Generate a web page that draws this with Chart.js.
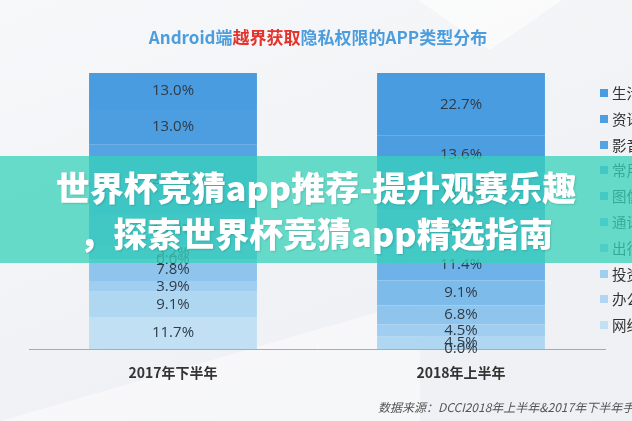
<!DOCTYPE html>
<html>
<head>
<meta charset="utf-8">
<script src="https://cdn.jsdelivr.net/npm/chart.js@4.4.1/dist/chart.umd.min.js"></script>
<style>
  html, body { margin: 0; padding: 0; }
  body { width: 632px; height: 421px; overflow: hidden; font-family: "Noto Sans CJK SC", "Noto Sans", sans-serif; }
  #wrap { position: relative; width: 632px; height: 421px; overflow: hidden;
    background: linear-gradient(160deg, #f7f8fa 0%, #f1f2f5 55%, #eef0f3 100%); }
  #shape1 { position: absolute; left: 360px; top: -40px; width: 0; height: 0;
    border-left: 130px solid transparent; border-right: 130px solid transparent;
    border-top: 90px solid rgba(255,255,255,0.55); }
  #shape2 { position: absolute; left: 0; top: 300px; width: 0; height: 0;
    border-right: 420px solid rgba(255,255,255,0.45); border-top: 121px solid transparent; }
  canvas { position: absolute; left: 0; top: 0; }
  #title { position: absolute; left: 0; top: 27px; width: 636px; text-align: center;
    font-size: 17px; font-weight: bold; line-height: 20px; color: #4b9ddd; white-space: nowrap; }
  #title span { color: #e5332c; }
  #legend { position: absolute; left: 600px; top: 0; }
  .item { position: absolute; left: 0; height: 16px; white-space: nowrap; font-size: 14.5px; line-height: 16px; color: #333; }
  .item i { position: absolute; left: 0; top: 4px; width: 8px; height: 8px; }
  .item b { position: absolute; left: 12px; top: 0; font-weight: normal; }
  #banner { position: absolute; left: 0; top: 156px; width: 632px; height: 107px;
    background: rgba(55, 209, 185, 0.75); color: #fff; text-align: center;
    font-size: 34px; font-weight: 900; line-height: 46px; box-sizing: border-box; padding-top: 8px;
    text-shadow: 1px 1px 2px rgba(0,0,0,0.15); white-space: nowrap; }
  #source { position: absolute; left: 378px; top: 399px; font-size: 12px; line-height: 16px;
    font-style: italic; color: #555; white-space: nowrap; }
</style>
</head>
<body>
<div id="wrap">
  <div id="shape1"></div>
  <div id="shape2"></div>
  <canvas id="appChart" width="632" height="421"></canvas>
  <div id="title">Android端<span>越界获取</span>隐私权限的APP类型分布</div>
  <div id="legend"></div>
  <div id="banner">世界杯竞猜app推荐-提升观赛乐趣<br>，探索世界杯竞猜app精选指南</div>
  <div id="source">数据来源：DCCI2018年上半年&amp;2017年下半年手机APP隐私权限报告</div>
</div>
<script>
// periods on the x axis
const periods = ['2017年下半年', '2018年上半年'];
// app types, top of the stack first (same order as the legend)
const appTypes = ['生活服务', '资讯阅读', '影音娱乐', '常用工具', '图像美化', '通讯社交', '出行导航', '投资理财', '办公商务', '网络购物'];
// share (%) per app type, same order as appTypes
const share2017 = [13.0, 13.0, 25.4, 10.9, 5.2, 0.0, 7.8, 3.9, 9.1, 11.7];
const share2018 = [22.7, 13.6, 13.6, 13.8, 11.4, 9.1, 6.8, 4.5, 4.5, 0.0];

const colors = ['#4a9ce0', '#4d9ee1', '#54a3e3', '#5faae5', '#6db2e8', '#7dbbea', '#8fc5ed', '#a0cef0', '#b0d7f2', '#c2e0f4'];

// legend (html, so it can run off the right edge like the original)
const legendBox = document.querySelector('#legend');
appTypes.forEach((name, i) => {
  const el = document.createElement('div');
  el.className = 'item';
  el.style.top = (85 + i * 25.8) + 'px';
  el.innerHTML = `<i style="background:${colors[i]}"></i><b>${name}</b>`;
  legendBox.appendChild(el);
});

// chart.js stacks the first dataset at the bottom, so reverse
const datasets = appTypes.map((name, i) => ({
  label: name,
  data: [share2017[i], share2018[i]],
  backgroundColor: colors[i],
  borderWidth: 0,
  barPercentage: 0.583,
  categoryPercentage: 1
})).reverse();

const valueLabels = {
  id: 'valueLabels',
  afterDatasetsDraw(chart) {
    const ctx = chart.ctx;
    ctx.save();
    ctx.font = '15px "Open Sans", "Noto Sans", sans-serif';
    ctx.fillStyle = '#2f3b47';
    ctx.textAlign = 'center';
    ctx.textBaseline = 'middle';
    chart.data.datasets.forEach((ds, d) => {
      const meta = chart.getDatasetMeta(d);
      meta.data.forEach((bar, j) => {
        const p = bar.getCenterPoint();
        ctx.fillText(ds.data[j].toFixed(1) + '%', p.x, p.y);
      });
    });
    ctx.restore();
  }
};

const ctx = document.getElementById('appChart').getContext('2d');
const chart = new Chart(ctx, {
  type: 'bar',
  data: { labels: periods, datasets: datasets },
  options: {
    responsive: false,
    animation: false,
    layout: { padding: { left: 29, right: 27, top: 73, bottom: 25 } },
    plugins: { legend: { display: false }, tooltip: { enabled: false } },
    scales: {
      x: {
        stacked: true,
        grid: { display: false, drawTicks: false },
        border: { display: true, color: '#a8aaad', width: 1 },
        ticks: { padding: 15, color: '#333', font: { family: '"Noto Sans CJK SC", sans-serif', size: 14, weight: 'bold' } }
      },
      y: { stacked: true, display: false, min: 0, max: 100 }
    }
  },
  plugins: [valueLabels]
});
</script>
</body>
</html>
